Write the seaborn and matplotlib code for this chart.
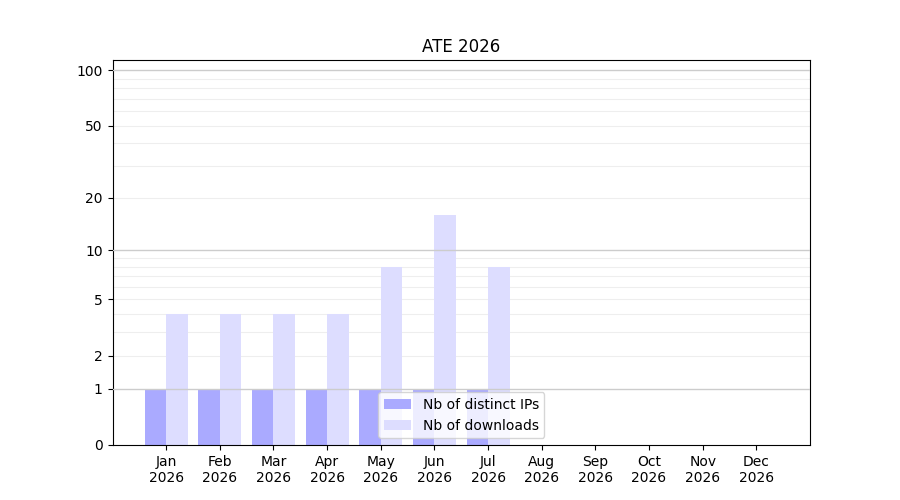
import numpy as np
import pandas as pd
import matplotlib
matplotlib.use('Agg')
import matplotlib.pyplot as plt
import seaborn as sns

# Data
months = ['Jan', 'Feb', 'Mar', 'Apr', 'May', 'Jun', 'Jul', 'Aug', 'Sep', 'Oct', 'Nov', 'Dec']
year = '2026'
distinct_ips = [1, 1, 1, 1, 1, 1, 1, 0, 0, 0, 0, 0]
downloads = [4, 4, 4, 4, 8, 16, 8, 0, 0, 0, 0, 0]
series_names = ['Nb of distinct IPs', 'Nb of downloads']
y_ticks = [0, 1, 2, 5, 10, 20, 50, 100]
major_grid = [1, 10, 100]
minor_grid = [2, 3, 4, 5, 6, 7, 8, 9, 20, 30, 40, 50, 60, 70, 80, 90]

df = pd.DataFrame({
    'month': months * 2,
    'value': distinct_ips + downloads,
    'series': [series_names[0]] * 12 + [series_names[1]] * 12,
})

sns.set_style('white')
plt.rcParams['font.family'] = ['DejaVu Sans']
plt.rcParams['text.color'] = 'black'
plt.rcParams['axes.labelcolor'] = 'black'
plt.rcParams['xtick.color'] = 'black'
plt.rcParams['ytick.color'] = 'black'

fig, ax = plt.subplots(figsize=(9, 5), dpi=100)

sns.barplot(data=df, x='month', y='value', hue='series',
            palette=['#aaaaff', '#ddddff'], saturation=1, width=0.8,
            linewidth=0, edgecolor='none', gap=0,
            ax=ax, errorbar=None)


def fwd(x):
    return np.log10(1 + np.maximum(x, 0))


def inv(y):
    return 10 ** y - 1


ax.set_yscale('function', functions=(fwd, inv))
ax.set_ylim(0, 113.5)
ax.set_xlim(-1, 12)
ax.set_yticks(y_ticks)
ax.set_yticklabels([str(t) for t in y_ticks])
ax.yaxis.set_minor_locator(matplotlib.ticker.NullLocator())
ax.set_xticks(range(len(months)))
ax.set_xticklabels([f'{m}\n{year}' for m in months])

for v in minor_grid:
    ax.axhline(v, color='#eeeeee', lw=0.8, zorder=0.5)
for v in major_grid:
    ax.axhline(v, color='#cccccc', lw=1.0, zorder=3)

ax.set_xlabel('')
ax.set_ylabel('')
ax.set_title('ATE 2026', color='black')
for s in ax.spines.values():
    s.set_color('black')
ax.tick_params(axis='both', which='major', length=3.5, width=0.8, color='black',
               labelcolor='black', bottom=True, left=True)
leg = ax.legend(loc='lower center', title=None)
for t in leg.get_texts():
    t.set_color('black')

plt.savefig('out.png', dpi=100)
